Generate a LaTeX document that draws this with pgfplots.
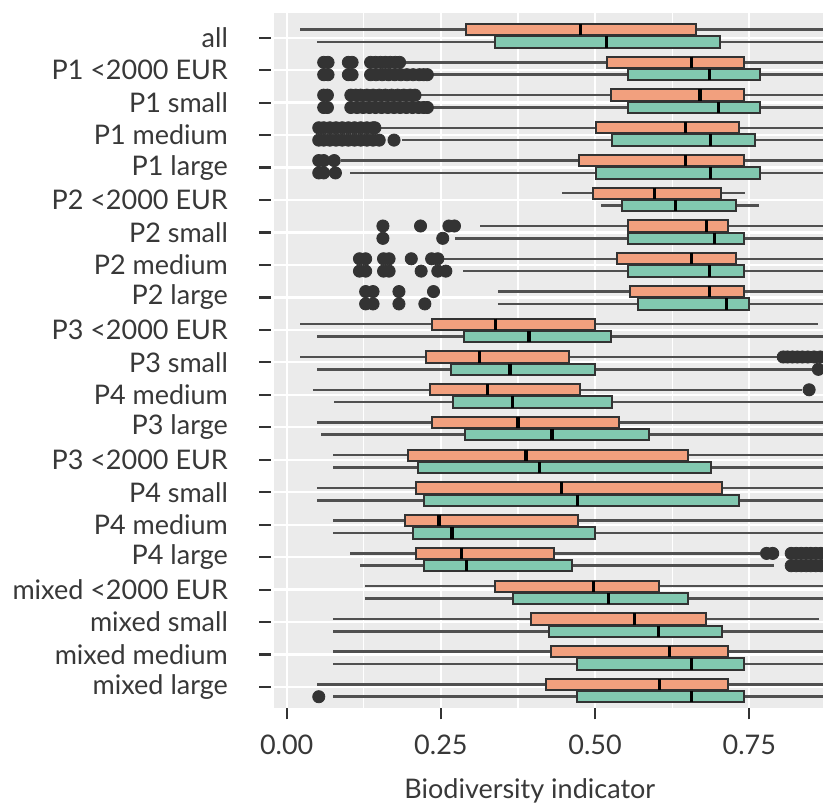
\documentclass[border=0pt]{standalone}
\usepackage{fontspec}
\setmainfont{Lato}
\usepackage{pgfplots}
\pgfplotsset{compat=1.18}
\usepgfplotslibrary{statistics}
\definecolor{panel}{HTML}{EBEBEB}
\definecolor{orng}{HTML}{F2A07E}
\definecolor{grn}{HTML}{82C8B0}
\definecolor{boxline}{HTML}{333333}
\definecolor{whisk}{HTML}{505050}
\definecolor{txt}{HTML}{383838}

\pgfplotsset{
  boxplot/every whisker/.style={draw=whisk, line width=1.25pt},
  boxplot/every median/.style={draw=black, line width=1.6pt},
}
% #1 fill, #2 position, #3 lower whisker, #4 lower quartile, #5 median, #6 upper quartile, #7 upper whisker
\newcommand{\bp}[7]{%
  \addplot[draw=boxline, line width=1pt, fill=#1,
    boxplot prepared={draw direction=x, draw position=#2, lower whisker=#3,
      lower quartile=#4, median=#5, upper quartile=#6, upper whisker=#7,
      box extend=0.35, whisker extend=0}] coordinates {};}

\begin{document}
\begin{tikzpicture}[font=\fontsize{13.5pt}{16pt}\selectfont]
\begin{axis}[
  name=ax,
  scale only axis, width=274.5pt, height=347.8pt,
  xmin=-0.0206, xmax=0.8695, ymin=-0.77, ymax=20.656, y dir=reverse,
  axis background/.style={fill=panel},
  axis line style={draw=none},
  tick pos=left, tick align=outside,
  xtick={0,0.25,0.5,0.75}, xticklabels={0.00,0.25,0.50,0.75},
  minor xtick={0.125,0.375,0.625,0.875},
  ytick={0,...,20},
  yticklabels={all, P1 <2000 EUR, P1 small, P1 medium, P1 large,
    P2 <2000 EUR, P2 small, P2 medium, P2 large, P3 <2000 EUR, P3 small,
    P4 medium, P3 large, P3 <2000 EUR, P4 small, P4 medium, P4 large,
    mixed <2000 EUR, mixed small, mixed medium, mixed large},
  xmajorgrids, xminorgrids, ymajorgrids,
  major grid style={white, line width=1.15pt},
  minor grid style={white, line width=0.6pt},
  major tick length=5.6pt, minor tick length=0pt,
  every tick/.style={draw=boxline, line width=1.1pt},
  every y tick/.append style={xshift=-1.65pt},
  xticklabel style={inner sep=0pt, yshift=-7.75pt, text=txt},
  yticklabel style={inner sep=0pt, xshift=-17.25pt, text=txt},
  xlabel={Biodiversity indicator},
  xlabel style={at={(axis description cs:0.466,0)}, anchor=north, inner sep=0pt, yshift=-34.85pt, text=txt},
]
% orange series
\bp{orng}{-0.25}{0.022}{0.290}{0.476}{0.663}{0.95}
\bp{orng}{0.76}{0.190}{0.519}{0.656}{0.741}{0.95}
\bp{orng}{1.77}{0.215}{0.526}{0.670}{0.741}{0.95}
\bp{orng}{2.775}{0.150}{0.501}{0.647}{0.733}{0.95}
\bp{orng}{3.785}{0.088}{0.474}{0.647}{0.741}{0.95}
\bp{orng}{4.79}{0.447}{0.496}{0.596}{0.704}{0.743}
\bp{orng}{5.80}{0.314}{0.554}{0.681}{0.716}{0.95}
\bp{orng}{6.81}{0.253}{0.536}{0.656}{0.728}{0.95}
\bp{orng}{7.82}{0.342}{0.557}{0.686}{0.741}{0.95}
\bp{orng}{8.825}{0.022}{0.236}{0.339}{0.500}{0.861}
\bp{orng}{9.835}{0.022}{0.226}{0.313}{0.458}{0.796}
\bp{orng}{10.845}{0.042}{0.232}{0.326}{0.475}{0.836}
\bp{orng}{11.85}{0.049}{0.236}{0.375}{0.539}{0.95}
\bp{orng}{12.86}{0.075}{0.196}{0.388}{0.650}{0.95}
\bp{orng}{13.87}{0.049}{0.209}{0.446}{0.705}{0.95}
\bp{orng}{14.875}{0.075}{0.192}{0.247}{0.473}{0.95}
\bp{orng}{15.885}{0.103}{0.209}{0.283}{0.433}{0.767}
\bp{orng}{16.895}{0.127}{0.337}{0.498}{0.604}{0.95}
\bp{orng}{17.905}{0.075}{0.396}{0.564}{0.680}{0.863}
\bp{orng}{18.91}{0.075}{0.429}{0.620}{0.716}{0.95}
\bp{orng}{19.92}{0.049}{0.420}{0.604}{0.716}{0.95}
% green series
\bp{grn}{0.13}{0.049}{0.337}{0.519}{0.703}{0.95}
\bp{grn}{1.14}{0.235}{0.554}{0.686}{0.767}{0.95}
\bp{grn}{2.15}{0.235}{0.554}{0.700}{0.767}{0.95}
\bp{grn}{3.155}{0.187}{0.527}{0.687}{0.759}{0.95}
\bp{grn}{4.165}{0.103}{0.501}{0.687}{0.767}{0.95}
\bp{grn}{5.17}{0.509}{0.543}{0.631}{0.728}{0.765}
\bp{grn}{6.18}{0.273}{0.554}{0.694}{0.741}{0.95}
\bp{grn}{7.19}{0.286}{0.554}{0.686}{0.741}{0.95}
\bp{grn}{8.20}{0.342}{0.570}{0.713}{0.750}{0.95}
\bp{grn}{9.205}{0.049}{0.287}{0.393}{0.526}{0.95}
\bp{grn}{10.215}{0.049}{0.266}{0.362}{0.500}{0.852}
\bp{grn}{11.225}{0.076}{0.270}{0.366}{0.527}{0.95}
\bp{grn}{12.23}{0.056}{0.289}{0.430}{0.588}{0.95}
\bp{grn}{13.24}{0.075}{0.213}{0.410}{0.688}{0.95}
\bp{grn}{14.25}{0.049}{0.223}{0.472}{0.733}{0.95}
\bp{grn}{15.255}{0.075}{0.204}{0.268}{0.500}{0.95}
\bp{grn}{16.265}{0.119}{0.223}{0.291}{0.462}{0.790}
\bp{grn}{17.275}{0.127}{0.367}{0.522}{0.650}{0.95}
\bp{grn}{18.285}{0.075}{0.426}{0.603}{0.705}{0.95}
\bp{grn}{19.29}{0.075}{0.470}{0.656}{0.741}{0.95}
\bp{grn}{20.30}{0.075}{0.470}{0.656}{0.741}{0.95}
% outliers
\addplot[only marks, mark=*, mark size=3.05pt, color=boxline] coordinates {
(0.060,0.76)(0.067,0.76)(0.100,0.76)(0.106,0.76)(0.136,0.76)(0.144,0.76)(0.152,0.76)(0.160,0.76)(0.168,0.76)(0.176,0.76)(0.183,0.76)
(0.060,1.14)(0.067,1.14)(0.100,1.14)(0.106,1.14)(0.136,1.14)(0.145,1.14)(0.155,1.14)(0.165,1.14)(0.175,1.14)(0.185,1.14)(0.195,1.14)(0.205,1.14)(0.215,1.14)(0.222,1.14)(0.228,1.14)
(0.060,1.77)(0.066,1.77)(0.104,1.77)(0.112,1.77)(0.120,1.77)(0.130,1.77)(0.140,1.77)(0.150,1.77)(0.160,1.77)(0.170,1.77)(0.180,1.77)(0.190,1.77)(0.200,1.77)(0.208,1.77)
(0.060,2.15)(0.066,2.15)(0.104,2.15)(0.114,2.15)(0.124,2.15)(0.134,2.15)(0.144,2.15)(0.154,2.15)(0.164,2.15)(0.174,2.15)(0.184,2.15)(0.194,2.15)(0.204,2.15)(0.214,2.15)(0.222,2.15)(0.228,2.15)
(0.052,2.775)(0.060,2.775)(0.070,2.775)(0.080,2.775)(0.090,2.775)(0.100,2.775)(0.110,2.775)(0.120,2.775)(0.130,2.775)(0.140,2.775)(0.143,2.775)
(0.052,3.155)(0.060,3.155)(0.070,3.155)(0.080,3.155)(0.090,3.155)(0.100,3.155)(0.110,3.155)(0.120,3.155)(0.130,3.155)(0.140,3.155)(0.150,3.155)(0.174,3.155)
(0.052,3.785)(0.060,3.785)(0.077,3.785)
(0.052,4.165)(0.060,4.165)(0.079,4.165)
(0.156,5.80)(0.217,5.80)(0.263,5.80)(0.272,5.80)
(0.156,6.18)(0.253,6.18)
(0.118,6.81)(0.128,6.81)(0.157,6.81)(0.166,6.81)(0.202,6.81)(0.235,6.81)(0.245,6.81)
(0.118,7.19)(0.128,7.19)(0.157,7.19)(0.166,7.19)(0.218,7.19)(0.245,7.19)(0.258,7.19)
(0.128,7.82)(0.140,7.82)(0.182,7.82)(0.238,7.82)
(0.128,8.20)(0.140,8.20)(0.182,8.20)(0.224,8.20)
(0.805,9.835)(0.812,9.835)(0.820,9.835)(0.828,9.835)(0.836,9.835)(0.845,9.835)(0.855,9.835)(0.865,9.835)(0.875,9.835)
(0.862,10.215)(0.872,10.215)
(0.847,10.845)
(0.778,15.885)(0.788,15.885)(0.818,15.885)(0.826,15.885)(0.834,15.885)(0.842,15.885)(0.850,15.885)(0.858,15.885)(0.866,15.885)(0.874,15.885)
(0.818,16.265)(0.826,16.265)(0.834,16.265)(0.842,16.265)(0.850,16.265)(0.858,16.265)(0.866,16.265)(0.874,16.265)
(0.052,20.30)
};
\end{axis}
\pgfresetboundingbox
\path ([xshift=-137pt,yshift=-47.35pt]ax.south west) rectangle ([yshift=6.35pt]ax.north east);
\end{tikzpicture}
\end{document}
